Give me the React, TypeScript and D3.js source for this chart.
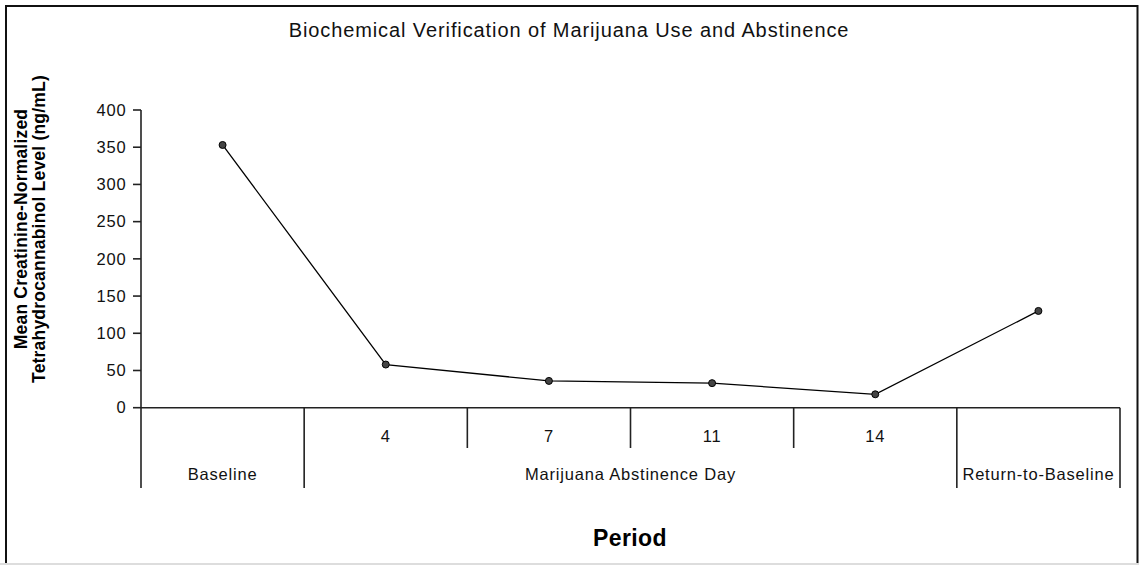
import React from "react";
import * as d3 from "d3";

// chart data
const periods = ["Baseline", "Day 4", "Day 7", "Day 11", "Day 14", "Return-to-Baseline"];
const dayLabels = ["", "4", "7", "11", "14", ""];
const groupLabels = ["Baseline", "Marijuana Abstinence Day", "Return-to-Baseline"];
const groupSpans = [
  [0, 1],
  [1, 5],
  [5, 6],
];
const thcLevels = [353, 58, 36, 33, 18, 130];
const yTicks = [0, 50, 100, 150, 200, 250, 300, 350, 400];

const titleText = "Biochemical Verification of Marijuana Use and Abstinence";
const yTitleLines = ["Mean Creatinine-Normalized", "Tetrahydrocannabinol Level (ng/mL)"];
const xTitle = "Period";

const W = 1139;
const H = 565;
const plot = { left: 141, right: 1120, top: 110, bottom: 407.7 };
const font = "'Liberation Sans', Arial, sans-serif";
const axisColor = "#222";

export default function App() {
  const x = d3
    .scaleBand<string>()
    .domain(periods)
    .range([plot.left, plot.right])
    .padding(0);
  const y = d3.scaleLinear().domain([0, 400]).range([plot.bottom, plot.top]);
  const cx = (i: number) => (x(periods[i]) as number) + x.bandwidth() / 2;
  const edge = (i: number) =>
    i >= periods.length ? plot.right : (x(periods[i]) as number);

  const line = d3
    .line<number>()
    .x((_, i) => cx(i))
    .y((d) => y(d));

  // separators: group boundaries go full depth, day boundaries only first row
  const groupEdges = new Set<number>();
  groupSpans.forEach(([a, b]) => {
    groupEdges.add(a);
    groupEdges.add(b);
  });
  const dayEdges: number[] = [];
  for (let i = 2; i < 5; i++) dayEdges.push(i);

  const tickStyle = { fontFamily: font, fontSize: 16.5, letterSpacing: 0.8, fill: "#111" };

  return (
    <svg
      width={W}
      height={H}
      style={{ position: "absolute", left: 0, top: 0, background: "#fff" }}
    >
      {/* outer frame */}
      <path d={`M6,${H + 2} V6 H1137.5 V${H + 2}`} fill="none" stroke="#111" strokeWidth={2} />
      <line x1={0} x2={W} y1={564} y2={564} stroke="#ddd" strokeWidth={2} />

      <text
        x={569}
        y={37}
        textAnchor="middle"
        style={{ fontFamily: font, fontSize: 20, letterSpacing: 0.9, fill: "#111" }}
      >
        {titleText}
      </text>

      {/* y axis title */}
      {yTitleLines.map((t, i) => (
        <text
          key={t}
          transform={`translate(${26.5 + i * 18},229) rotate(-90)`}
          textAnchor="middle"
          style={{ fontFamily: font, fontSize: 17.5, fontWeight: "bold", letterSpacing: 0.2, fill: "#000" }}
        >
          {t}
        </text>
      ))}

      {/* y axis */}
      <line x1={plot.left} x2={plot.left} y1={y(400)} y2={y(0)} stroke={axisColor} strokeWidth={1.6} />
      {yTicks.map((t) => (
        <g key={t}>
          <line x1={plot.left - 8} x2={plot.left} y1={y(t)} y2={y(t)} stroke={axisColor} strokeWidth={1.6} />
          <text x={126.5} y={y(t)} dy="0.35em" textAnchor="end" style={tickStyle}>
            {t}
          </text>
        </g>
      ))}

      {/* x axis and category separators */}
      <line x1={plot.left} x2={plot.right} y1={y(0)} y2={y(0)} stroke={axisColor} strokeWidth={1.6} />
      {Array.from(groupEdges).map((i) => (
        <line key={"g" + i} x1={edge(i)} x2={edge(i)} y1={y(0)} y2={488} stroke={axisColor} strokeWidth={1.6} />
      ))}
      {dayEdges.map((i) => (
        <line key={"d" + i} x1={edge(i)} x2={edge(i)} y1={y(0)} y2={448} stroke={axisColor} strokeWidth={1.6} />
      ))}
      {dayLabels.map((d, i) =>
        d ? (
          <text key={"l" + i} x={cx(i)} y={441.5} textAnchor="middle" style={tickStyle}>
            {d}
          </text>
        ) : null
      )}
      {groupLabels.map((g, i) => {
        const [a, b] = groupSpans[i];
        return (
          <text key={g} x={(edge(a) + edge(b)) / 2} y={480} textAnchor="middle" style={tickStyle}>
            {g}
          </text>
        );
      })}

      <text
        x={630}
        y={546}
        textAnchor="middle"
        style={{ fontFamily: font, fontSize: 23, fontWeight: "bold", letterSpacing: 0.4, fill: "#000" }}
      >
        {xTitle}
      </text>

      {/* series */}
      <path d={line(thcLevels) || ""} fill="none" stroke="#000" strokeWidth={1.3} />
      {thcLevels.map((v, i) => (
        <circle key={i} cx={cx(i)} cy={y(v)} r={3.5} fill="#444" stroke="#000" strokeWidth={1} />
      ))}
    </svg>
  );
}
